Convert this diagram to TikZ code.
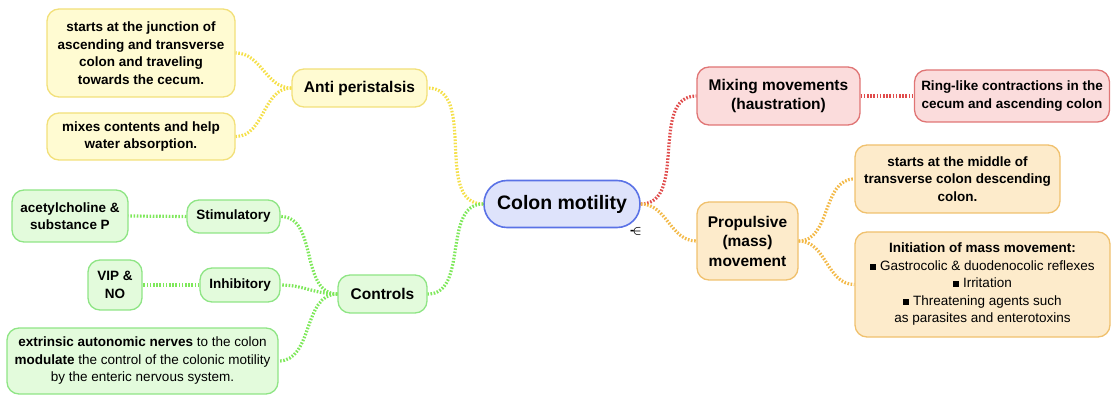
\documentclass[tikz,border=0pt]{standalone}
\usepackage{fontspec}
\setmainfont{Liberation Sans}
\definecolor{yfill}{HTML}{FFFBD2}
\definecolor{ydraw}{HTML}{F2E07A}
\definecolor{yline}{HTML}{F5E04A}
\definecolor{gfill}{HTML}{E3FBDC}
\definecolor{gdraw}{HTML}{8FE585}
\definecolor{gline}{HTML}{7EE85A}
\definecolor{rfill}{HTML}{FBDCDC}
\definecolor{rdraw}{HTML}{E07575}
\definecolor{rline}{HTML}{E04B4B}
\definecolor{ofill}{HTML}{FDEBCB}
\definecolor{odraw}{HTML}{F0C16E}
\definecolor{oline}{HTML}{F3B948}
\definecolor{bfill}{HTML}{DEE3FB}
\definecolor{bdraw}{HTML}{5A72E6}
\tikzset{
  box/.style={draw=#1draw, fill=#1fill, line width=1.3pt, rounded corners=12pt,
    align=center, inner sep=0pt, text=black},
  small/.style={font=\fontsize{13.5}{17.5}\selectfont\bfseries},
  smallr/.style={font=\fontsize{13.5}{17.5}\selectfont},
  mid/.style={font=\fontsize{15.5}{19.5}\selectfont\bfseries},
  conn/.style={line width=3.2pt, dash pattern=on 1.6pt off 1.6pt, draw=#1},
}
\newcommand{\sq}{\raisebox{0.5pt}{\rule{6pt}{6pt}}\ }
\begin{document}
\begin{tikzpicture}[x=1pt,y=-1pt]
\useasboundingbox (0,0) rectangle (1111,395);
% center
\node[draw=bdraw, fill=bfill, line width=1.6pt, rounded corners=23pt, minimum width=156pt, minimum height=47pt,
  inner sep=0pt, font=\fontsize{19.5}{22}\selectfont\bfseries] (colon) at (562,204) {Colon motility};
\node[inner sep=0pt, font=\fontsize{13}{13}\selectfont\boldmath] (mark) at (636,232) {\textbf{-}\kern-2pt$\in$};
% yellow
\node[box=y, mid, minimum width=135pt, minimum height=38pt] (anti) at (359.5,88) {Anti peristalsis};
\node[box=y, small, minimum width=188pt, minimum height=88pt] (y1) at (141,53)
  {starts at the junction of\\ascending and transverse\\colon and traveling\\towards the cecum.};
\node[box=y, small, minimum width=188pt, minimum height=47pt] (y2) at (141,136.5)
  {mixes contents and help\\water absorption.};
% green
\node[box=g, mid, minimum width=89pt, minimum height=38pt] (ctrl) at (382.5,294) {Controls};
\node[box=g, small, minimum width=93pt, minimum height=33pt] (stim) at (233.5,216.5) {Stimulatory};
\node[box=g, small, minimum width=116pt, minimum height=52pt] (acet) at (70,216) {acetylcholine \&\\substance P};
\node[box=g, small, minimum width=80pt, minimum height=34pt] (inhib) at (240,285) {Inhibitory};
\node[box=g, small, minimum width=54pt, minimum height=50pt] (vip) at (115,285) {VIP \&\\NO};
\node[box=g, smallr, minimum width=271pt, minimum height=66pt] (extr) at (142.5,361)
  {\textbf{extrinsic autonomic nerves} to the colon\\\textbf{modulate} the control of the colonic motility\\by the enteric nervous system.};
% red
\node[box=r, mid, minimum width=163pt, minimum height=58pt] (mix) at (778.5,96) {Mixing movements\\(haustration)};
\node[box=r, small, minimum width=195pt, minimum height=52pt] (ring) at (1012,96)
  {Ring-like contractions in the\\cecum and ascending colon};
% orange
\node[box=o, mid, minimum width=101pt, minimum height=78pt] (prop) at (747.5,241) {Propulsive\\(mass)\\movement};
\node[box=o, small, minimum width=205pt, minimum height=68pt] (mid1) at (957.5,179)
  {starts at the middle of\\transverse colon descending\\colon.};
\node[box=o, smallr, minimum width=255pt, minimum height=105pt] (init) at (982.5,284.5)
  {\textbf{Initiation of mass movement:}\\\sq Gastrocolic \& duodenocolic reflexes\\\sq Irritation\\\sq Threatening agents such\\as parasites and enterotoxins};
% connectors
\draw[conn=yline] (colon.west) to[out=180,in=0] (anti.east);
\draw[conn=yline] (anti.west) to[out=180,in=0] (y1.east);
\draw[conn=yline] (anti.west) to[out=180,in=0] (y2.east);
\draw[conn=gline] (colon.west) to[out=180,in=0] (ctrl.east);
\draw[conn=gline] (ctrl.west) to[out=180,in=0] (stim.east);
\draw[conn=gline] (ctrl.west) to[out=180,in=0] (inhib.east);
\draw[conn=gline] (ctrl.west) to[out=180,in=0] (extr.east);
\draw[conn=gline] (stim.west) -- (acet.east);
\draw[conn=gline] (inhib.west) -- (vip.east);
\draw[conn=rline] (colon.east) to[out=0,in=180] (mix.west);
\draw[conn=rline] (mix.east) -- (ring.west);
\draw[conn=oline] (colon.east) to[out=0,in=180] (prop.west);
\draw[conn=oline] (prop.east) to[out=0,in=180] (mid1.west);
\draw[conn=oline] (prop.east) to[out=0,in=180] (init.west);
\end{tikzpicture}
\end{document}
